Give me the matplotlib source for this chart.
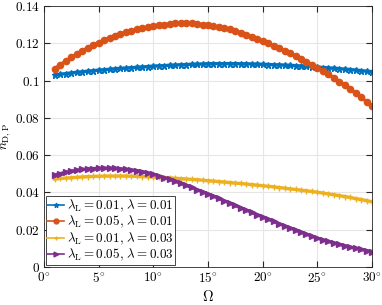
import numpy as np
import matplotlib
matplotlib.use("Agg")
import matplotlib.pyplot as plt

plt.rcParams['mathtext.fontset'] = 'cm'
plt.rcParams['font.family'] = ['DejaVu Serif']

omega = [1.0 + 0.5 * i for i in range(59)]

blue = [0.1030, 0.1034, 0.1037, 0.1041, 0.1044, 0.1047, 0.1050, 0.1053, 0.1056, 0.1058,
        0.1060, 0.1063, 0.1065, 0.1067, 0.1069, 0.1071, 0.1073, 0.1075, 0.1077, 0.1079,
        0.1080, 0.1082, 0.1083, 0.1085, 0.1086, 0.1087, 0.1088, 0.1089, 0.1090, 0.1091,
        0.1091, 0.1091, 0.1091, 0.1091, 0.1090, 0.1090, 0.1089, 0.1088, 0.1087, 0.1086,
        0.1085, 0.1084, 0.1083, 0.1081, 0.1080, 0.1078, 0.1076, 0.1074, 0.1072, 0.1070,
        0.1068, 0.1066, 0.1064, 0.1061, 0.1059, 0.1056, 0.1053, 0.1050, 0.1047]

orange = [0.1064, 0.1085, 0.1105, 0.1124, 0.1142, 0.1159, 0.1175, 0.1190, 0.1204, 0.1217,
          0.1229, 0.1240, 0.1250, 0.1259, 0.1267, 0.1274, 0.1280, 0.1286, 0.1291, 0.1296,
          0.1300, 0.1305, 0.1308, 0.1309, 0.1309, 0.1307, 0.1304, 0.1300, 0.1296, 0.1292,
          0.1287, 0.1281, 0.1274, 0.1266, 0.1257, 0.1247, 0.1236, 0.1224, 0.1212, 0.1200,
          0.1187, 0.1174, 0.1160, 0.1146, 0.1131, 0.1116, 0.1101, 0.1085, 0.1069, 0.1052,
          0.1034, 0.1015, 0.0995, 0.0975, 0.0954, 0.0932, 0.0910, 0.0887, 0.0864]

yellow = [0.0472, 0.0475, 0.0477, 0.0479, 0.0481, 0.0483, 0.0485, 0.0486, 0.0487, 0.0488,
          0.0488, 0.0488, 0.0488, 0.0488, 0.0487, 0.0486, 0.0485, 0.0484, 0.0482, 0.0481,
          0.0479, 0.0478, 0.0476, 0.0474, 0.0472, 0.0470, 0.0468, 0.0466, 0.0463, 0.0461,
          0.0458, 0.0456, 0.0453, 0.0450, 0.0448, 0.0445, 0.0442, 0.0439, 0.0436, 0.0433,
          0.0430, 0.0426, 0.0423, 0.0419, 0.0416, 0.0412, 0.0409, 0.0405, 0.0401, 0.0397,
          0.0392, 0.0388, 0.0383, 0.0378, 0.0373, 0.0367, 0.0362, 0.0356, 0.0350]

purple = [0.0493, 0.0501, 0.0508, 0.0514, 0.0519, 0.0523, 0.0526, 0.0528, 0.0529, 0.0530,
          0.0530, 0.0529, 0.0527, 0.0524, 0.0521, 0.0517, 0.0512, 0.0505, 0.0498, 0.0489,
          0.0480, 0.0470, 0.0460, 0.0449, 0.0438, 0.0427, 0.0415, 0.0404, 0.0392, 0.0380,
          0.0368, 0.0355, 0.0343, 0.0330, 0.0318, 0.0305, 0.0293, 0.0281, 0.0269, 0.0257,
          0.0245, 0.0233, 0.0221, 0.0210, 0.0198, 0.0187, 0.0176, 0.0165, 0.0155, 0.0146,
          0.0137, 0.0129, 0.0121, 0.0114, 0.0107, 0.0100, 0.0094, 0.0088, 0.0082]

labels = [r'$\lambda_{\mathrm{L}}=0.01,\,\lambda=0.01$',
          r'$\lambda_{\mathrm{L}}=0.05,\,\lambda=0.01$',
          r'$\lambda_{\mathrm{L}}=0.01,\,\lambda=0.03$',
          r'$\lambda_{\mathrm{L}}=0.05,\,\lambda=0.03$']

xticks = [0, 5, 10, 15, 20, 25, 30]
yticks = [0, 0.02, 0.04, 0.06, 0.08, 0.1, 0.12, 0.14]
ytick_labels = ['0', '0.02', '0.04', '0.06', '0.08', '0.1', '0.12', '0.14']

colors = ['#0072BD', '#D95319', '#EDB120', '#7E2F8E']
markers = ['*', 'o', '+', '>']
msizes = [5, 4.5, 5, 5]

fig = plt.figure(figsize=(3.82, 3.05), dpi=100)
ax = fig.add_axes([0.115, 0.1246, 0.859, 0.8557])

for ys, c, m, ms, lab in zip([blue, orange, yellow, purple], colors, markers, msizes, labels):
    ax.plot(omega, ys, color=c, marker=m, markersize=ms, linewidth=2.4,
            markeredgewidth=1.0, label=lab)

ax.set_xlim(0, 30)
ax.set_ylim(0, 0.14)
ax.set_xticks(xticks)
ax.set_xticklabels([r'$%d^{\circ}$' % t for t in xticks], fontsize=9.5)
ax.set_yticks(yticks)
ax.set_yticklabels([r'$%s$' % s for s in ytick_labels], fontsize=9.5)
ax.tick_params(direction='in', top=True, right=True, length=4,
               color='#262626', pad=3)
ax.grid(True, color='#e6e6e6', linewidth=0.8)
ax.set_axisbelow(True)
for sp in ax.spines.values():
    sp.set_color('#262626')
    sp.set_linewidth(0.6)

ax.set_xlabel(r'$\Omega$', fontsize=10.5)
ax.xaxis.set_label_coords(0.5, -0.085)
ax.set_ylabel(r'$n_{\mathrm{D,P}}$', fontsize=9.5)
ax.yaxis.set_label_coords(-0.095, 0.5)

leg = ax.legend(loc='lower left', fontsize=9.4, handlelength=1.3, handletextpad=0.2,
                borderpad=0.12, labelspacing=0.02, borderaxespad=0.15, fancybox=False,
                framealpha=1, edgecolor='#262626')
leg.get_frame().set_linewidth(0.6)
for h in leg.legend_handles:
    h.set_markersize(3.5)
    h.set_linewidth(1.2)

fig.savefig('out.png', dpi=100)
